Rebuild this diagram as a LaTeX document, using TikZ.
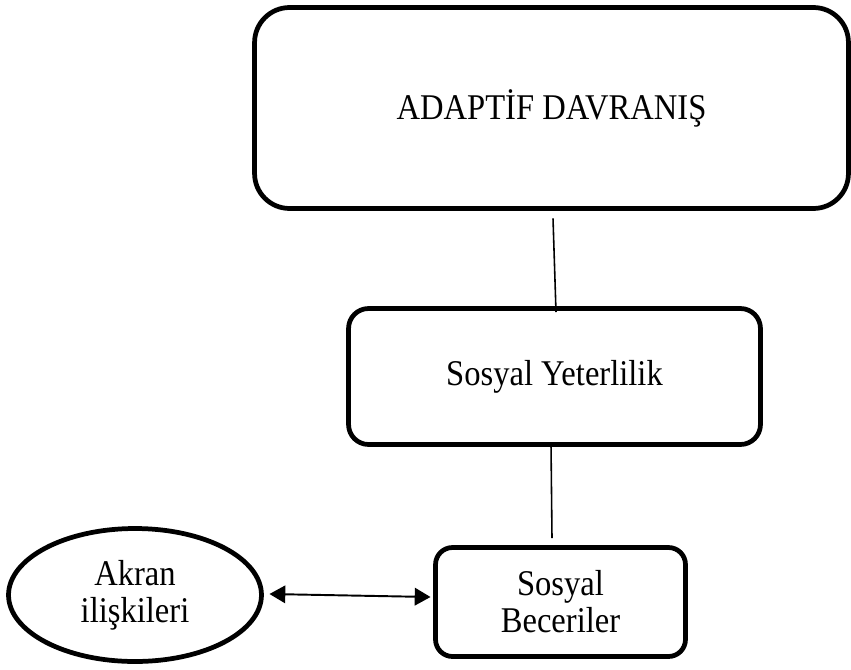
\documentclass[tikz,border=0pt]{standalone}
\usepackage{fontspec}
\setmainfont[FakeStretch=0.9]{Liberation Serif}
\usepackage{tikz}
\usetikzlibrary{shapes.geometric,calc,arrows.meta}

\begin{document}
\begin{tikzpicture}[x=0.02cm,y=-0.02cm,
    kutu/.style={draw,line width=2.7pt,inner sep=0pt,outer sep=0pt,align=center,
      font=\fontsize{20.6}{21}\selectfont},
    baglanti/.style={line width=0.9pt}]
      \useasboundingbox (0,0) rectangle (851,669);

      \node[kutu,rounded corners=0.7cm,minimum width=11.88cm,minimum height=4.02cm] (adaptif) at (551.5,108) {ADAPTİF DAVRANIŞ};
      \node[kutu,rounded corners=0.4cm,minimum width=8.24cm,minimum height=2.72cm] (yeterlilik) at (554.5,376.5) {Sosyal Yeterlilik};
      \node[kutu,rounded corners=0.34cm,minimum width=5cm,minimum height=2.18cm] (beceri) at (560.5,602) {Sosyal\\Beceriler};
      \node[kutu,ellipse,minimum width=5.06cm,minimum height=2.66cm] (akran) at (135,595) {Akran\\ilişkileri};

      \draw[baglanti] ($(adaptif.south)+(1.5,10)$) -- ($(yeterlilik.north)+(1.5,3.5)$);
      \draw[baglanti] ($(yeterlilik.south)+(-3.5,0)$) -- ($(beceri.north)+(-8.5,-9.5)$);
      \draw[line width=1.1pt,{Triangle[length=9pt,width=10pt]}-{Triangle[length=9pt,width=10pt]}] ($(akran.east)+(8,-1)$) -- ($(beceri.west)+(-5,-5)$);
    \end{tikzpicture}
\end{document}
